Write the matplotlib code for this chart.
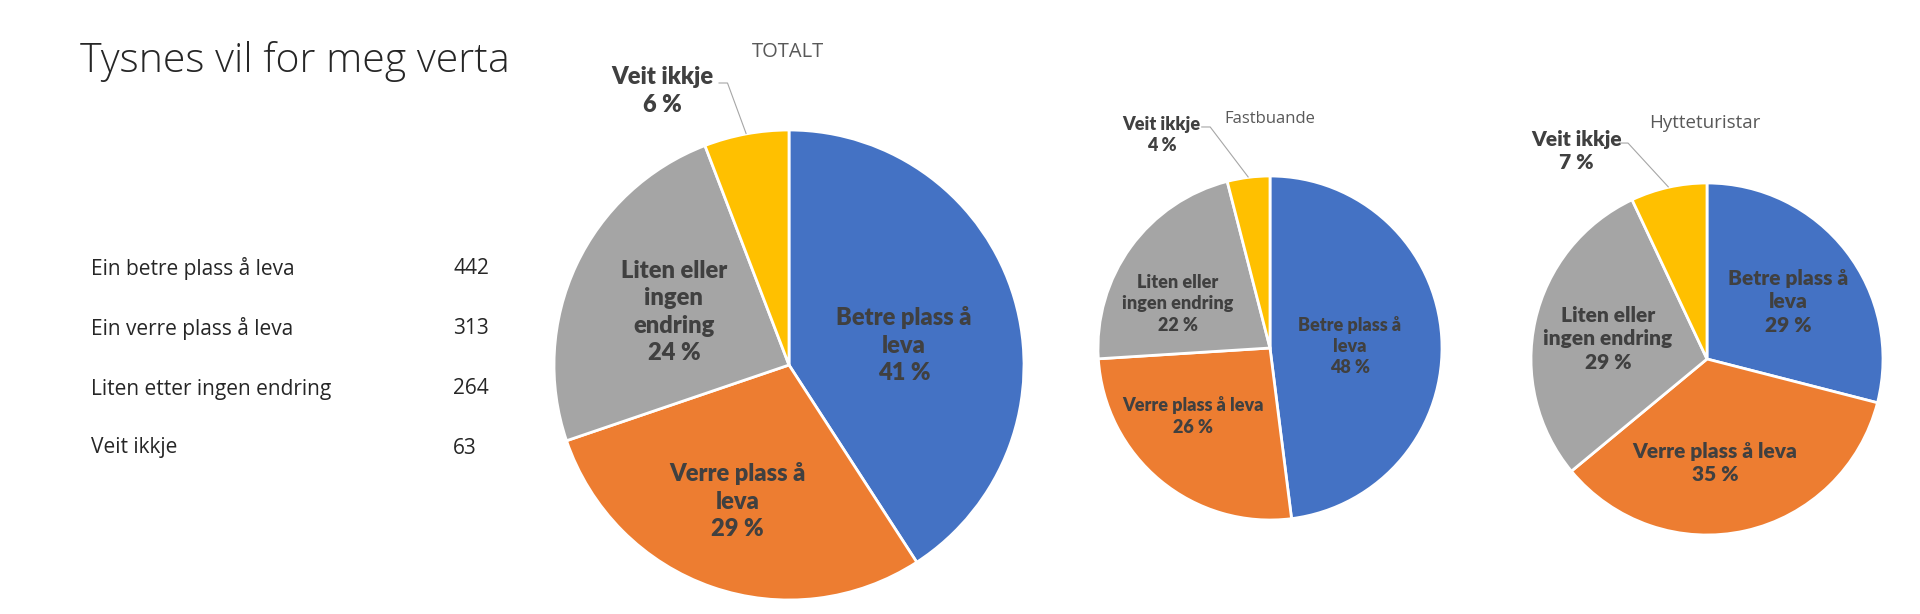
import matplotlib
matplotlib.use("Agg")
import matplotlib.pyplot as plt
import numpy as np

# ---------------- data ----------------
title = "Tysnes vil for meg verta"
table_labels = ["Ein betre plass å leva", "Ein verre plass å leva",
                "Liten etter ingen endring", "Veit ikkje"]
table_counts = [442, 313, 264, 63]

slice_names = ["Betre plass å\nleva", "Verre plass å\nleva",
               "Liten eller\ningen\nendring", "Veit ikkje"]
small_names = ["Betre plass å\nleva", "Verre plass å leva",
               "Liten eller\ningen endring", "Veit ikkje"]

pie_titles = ["TOTALT", "Fastbuande", "Hytteturistar"]
totalt_values = table_counts
fastbuande_values = [48, 26, 22, 4]
hytte_values = [29, 35, 29, 7]

colors = ["#4472C4", "#ED7D31", "#A5A5A5", "#FFC000"]

# ---------------- layout ----------------
W, H = 1920, 614
fig = plt.figure(figsize=(W / 100, H / 100), dpi=100)
ax = fig.add_axes([0, 0, 1, 1])

def Y(y):
    return H - y

pies = [
    dict(values=totalt_values, names=slice_names, c=(789, 365), r=235, fs=17,
         ls=1.3, off=[(0.49, 0.085), (-0.22, -0.58), (-0.49, 0.226), (-0.54, 1.166)],
         lead=(-0.30, 1.20), tpos=(788, 52), tfs=14.5),
    dict(values=fastbuande_values, names=small_names, c=(1270, 348), r=172, fs=13,
         ls=1.3, off=[(0.465, 0.01), (-0.45, -0.395), (-0.535, 0.256), (-0.63, 1.24)],
         lead=(-0.40, 1.285), tpos=(1270, 119), tfs=12),
    dict(values=hytte_values, names=small_names, c=(1707, 359), r=176, fs=15,
         ls=1.27, off=[(0.46, 0.324), (0.045, -0.59), (-0.5625, 0.114), (-0.74, 1.18)],
         lead=(-0.50, 1.227), tpos=(1705, 123), tfs=13.5),
]

label_font = ["Lato", "DejaVu Sans"]
text_col = "#404040"

for i, p in enumerate(pies):
    vals = np.array(p["values"], dtype=float)
    cx, cy = p["c"]
    r = p["r"]
    wedges, _ = ax.pie(vals, colors=colors, startangle=90, counterclock=False,
                       center=(cx, Y(cy)), radius=r,
                       wedgeprops=dict(edgecolor="white", linewidth=2))
    pct = np.round(vals / vals.sum() * 100).astype(int)
    for j, (name, (dx, dy)) in enumerate(zip(p["names"], p["off"])):
        ax.text(cx + dx * r, Y(cy) + dy * r, f"{name}\n{pct[j]} %",
                ha="center", va="center", multialignment="center",
                fontsize=p["fs"], fontweight="heavy", color=text_col,
                family=label_font, linespacing=p["ls"])
    w = wedges[3]
    mid = np.deg2rad((w.theta1 + w.theta2) / 2)
    ex, ey = cx + r * np.cos(mid), Y(cy) + r * np.sin(mid)
    sx, sy = cx + p["lead"][0] * r, Y(cy) + p["lead"][1] * r
    ax.plot([sx, sx + 9, ex], [sy, sy, ey], color="#A6A6A6", lw=0.8,
            solid_capstyle="butt")
    tx, ty = p["tpos"]
    ax.text(tx, Y(ty), pie_titles[i], ha="center", va="center",
            fontsize=p["tfs"], color="#595959", family=["Open Sans", "DejaVu Sans"])

ax.text(80, Y(61), title, ha="left", va="center", fontsize=29.5,
        color="#262626", family=["Open Sans", "DejaVu Sans"], fontweight="light")

row_y = [269, 328, 389, 448]
for lab, cnt, y in zip(table_labels, table_counts, row_y):
    ax.text(91, Y(y), lab, ha="left", va="center", fontsize=15,
            color="#262626", family=["Open Sans", "DejaVu Sans"])
    ax.text(453, Y(y), str(cnt), ha="left", va="center", fontsize=15,
            color="#262626", family=["Open Sans", "DejaVu Sans"])

ax.set_xlim(0, W)
ax.set_ylim(0, H)
ax.set_aspect("equal")
ax.axis("off")
fig.savefig("out.png", dpi=100, facecolor="white")
